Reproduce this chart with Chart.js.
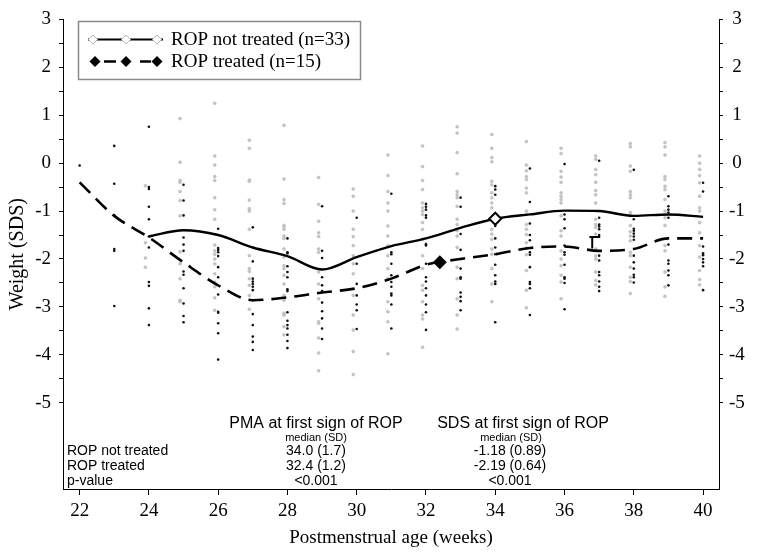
<!DOCTYPE html>
<html>
<head>
<meta charset="utf-8">
<script src="https://cdn.jsdelivr.net/npm/chart.js@4.4.0/dist/chart.umd.min.js"></script>
<style>
html,body{margin:0;padding:0;background:#fff;}
#wrap{width:762px;height:556px;position:relative;}
</style>
</head>
<body>
<div id="wrap"><canvas id="c" width="762" height="556"></canvas></div>
<script>
// ---------- DATA ----------
const obsWeeks = [22,23,24,25,26,27,28,29,30,31,32,33,34,35,36,37,38,39,40];

// Individual weight SDS observations, ROP not treated (grey dots), one list per week
const notTreatedObs = [
  [],
  [],
  [-0.47,-1.66,-1.98,-2.17],
  [0.93,0.02,-0.36,-0.40,-0.59,-0.78,-1.10,-1.85,-2.10,-2.41,-2.86,-2.89],
  [1.25,0.15,-0.04,-0.28,-0.36,-0.72,-0.97,-1.17,-1.71,-1.83,-1.90,-2.00,-2.10,-2.31,-2.48,-2.58,-2.81,-3.07],
  [0.48,0.31,-0.35,-0.38,-0.77,-0.95,-1.00,-1.38,-1.93,-2.20,-2.26,-2.41,-2.55,-2.76,-3.05],
  [0.79,-0.33,-0.76,-0.84,-1.30,-1.32,-1.38,-1.52,-1.57,-1.79,-1.96,-2.14,-2.20,-2.34,-2.52,-2.76,-2.86,-3.13,-3.17,-3.41,-3.58],
  [-0.30,-0.86,-1.21,-1.45,-1.53,-1.79,-1.86,-2.27,-2.52,-2.83,-3.31,-3.34,-3.65,-3.96,-4.33],
  [-0.54,-0.69,-1.00,-1.38,-1.53,-1.72,-1.93,-2.10,-2.31,-2.76,-3.17,-3.48,-3.93,-4.41],
  [0.17,-0.26,-0.59,-0.83,-1.00,-1.31,-1.52,-1.72,-1.93,-2.20,-2.41,-2.89,-3.10,-3.31,-3.98],
  [0.36,-0.07,-0.36,-0.55,-0.83,-0.93,-1.00,-1.07,-1.24,-1.38,-1.59,-1.93,-2.20,-2.55,-2.65,-2.89,-3.17,-3.25,-3.84],
  [0.76,0.63,0.22,-0.22,-0.59,-0.66,-0.72,-0.90,-1.17,-1.28,-1.41,-1.52,-1.76,-2.17,-2.41,-2.83,-3.17,-3.46],
  [0.60,0.31,0.12,0.03,-0.38,-0.45,-0.62,-0.72,-0.83,-0.93,-1.38,-1.48,-1.59,-1.79,-1.90,-2.20,-2.52,-2.89],
  [0.45,-0.04,-0.16,-0.28,-0.34,-0.52,-0.62,-1.00,-1.07,-1.28,-1.38,-1.49,-1.66,-1.77,-1.91,-2.24,-2.65,-3.02],
  [0.31,0.20,-0.17,-0.29,-0.40,-0.62,-0.69,-0.76,-0.83,-1.10,-1.41,-1.52,-1.83,-2.00,-2.14,-2.34,-2.48,-2.83],
  [0.15,0.08,-0.13,-0.24,-0.40,-0.57,-0.66,-0.83,-1.17,-1.28,-1.34,-1.48,-1.79,-1.93,-2.00,-2.27,-2.45,-2.54],
  [0.41,0.34,-0.06,-0.17,-0.59,-0.66,-0.72,-1.03,-1.10,-1.30,-1.43,-1.52,-1.62,-1.86,-1.93,-2.17,-2.38,-2.47,-2.72],
  [0.43,0.34,0.17,-0.28,-0.34,-0.48,-0.55,-0.76,-1.00,-1.14,-1.30,-1.72,-1.83,-2.27,-2.58,-2.78],
  [0.15,0.00,-0.13,-0.26,-0.41,-0.69,-0.93,-1.00,-1.24,-1.45,-1.72,-1.96,-2.24,-2.43,-2.54]
];

// Individual weight SDS observations, ROP treated (black dots), one list per week
const treatedObs = [
  [-0.05],
  [0.36,-0.43,-1.09,-1.79,-1.83,-2.98],
  [0.76,-0.50,-0.54,-0.91,-1.17,-1.53,-1.76,-2.48,-2.56,-3.03,-3.38],
  [-0.45,-0.78,-1.09,-1.55,-1.70,-1.83,-2.26,-2.33,-2.61,-2.93,-3.19,-3.32],
  [-1.37,-1.77,-1.81,-1.86,-1.94,-2.17,-2.38,-2.74,-3.10,-3.12,-3.34,-3.55,-4.10],
  [-1.34,-2.05,-2.41,-2.47,-2.52,-2.58,-2.65,-2.86,-3.15,-3.38,-3.62,-3.73,-3.90],
  [-1.57,-1.86,-1.88,-2.15,-2.27,-2.38,-2.63,-2.67,-3.11,-3.29,-3.38,-3.45,-3.58,-3.71,-3.86],
  [-0.90,-1.83,-1.98,-2.38,-2.55,-2.67,-2.91,-3.09,-3.24,-3.45,-3.67],
  [-1.14,-2.10,-2.52,-2.76,-2.95,-3.07,-3.46],
  [-0.64,-1.86,-1.90,-2.10,-2.34,-2.48,-2.58,-2.72,-2.76,-2.95,-3.45],
  [-0.85,-0.91,-0.97,-1.09,-1.14,-1.69,-1.72,-2.10,-2.38,-2.47,-2.61,-2.76,-2.95,-3.11,-3.48],
  [-0.72,-0.91,-1.48,-1.81,-2.00,-2.20,-2.38,-2.41,-2.70,-2.79,-2.88,-3.07],
  [-0.48,-0.55,-0.66,-1.31,-1.57,-1.76,-1.90,-2.12,-2.34,-2.47,-2.52,-3.32],
  [-0.11,-0.81,-1.26,-1.50,-1.61,-1.86,-1.91,-2.17,-2.48,-2.52,-2.61,-3.17],
  [-0.02,-1.07,-1.17,-1.36,-1.72,-1.86,-1.91,-2.12,-2.38,-2.41,-2.50,-3.05],
  [0.05,-1.14,-1.28,-1.32,-1.38,-1.50,-1.93,-2.03,-2.27,-2.34,-2.47,-2.58,-2.67],
  [-0.14,-1.17,-1.37,-1.41,-1.47,-1.53,-1.60,-1.93,-2.07,-2.20,-2.33,-2.38,-2.49],
  [-0.69,-0.90,-0.97,-1.03,-1.14,-1.70,-2.03,-2.10,-2.24,-2.34,-2.55],
  [-0.41,-0.59,-1.74,-1.88,-1.92,-2.00,-2.07,-2.15,-2.65]
];

// Smoothed group curves (weight SDS per week)
const curveWeeks       = [22,23,24,25,26,27,28,29,30,31,32,33,34,35,36,37,38,39,40];
const notTreatedCurve  = [null,null,-1.53,-1.40,-1.50,-1.76,-1.94,-2.22,-1.96,-1.73,-1.57,-1.35,-1.16,-1.07,-0.99,-1.00,-1.10,-1.07,-1.12];
const treatedCurve     = [-0.40,-1.10,-1.55,-2.07,-2.55,-2.86,-2.80,-2.70,-2.61,-2.41,-2.12,-2.00,-1.90,-1.77,-1.74,-1.83,-1.79,-1.57,-1.57];

// First sign of ROP markers (PMA, SDS as plotted)
const firstSignPMA = [34.0, 32.4];
const firstSignSDS = [-1.16, -2.07];

// Small error-bar ("T") near week 37
const barWeeks = [36.80, 36.80];
const barValues = [-1.78, -1.54];
const capWeeks = [36.72, 37.03];
const capValues = [-1.54, -1.54];

// Axis ticks
const xTicks = [22,24,26,28,30,32,34,36,38,40];
const yTicks = [3,2,1,0,-1,-2,-3,-4,-5];

// Legend & table texts
const legendLabels = ['ROP not treated (n=33)', 'ROP treated (n=15)'];
const tableHeaders = ['PMA at first sign of ROP', 'SDS at first sign of ROP'];
const tableSubHeader = 'median (SD)';
const tableRowLabels = ['ROP not treated', 'ROP treated', 'p-value'];
const pmaColumn = ['34.0 (1.7)', '32.4 (1.2)', '<0.001'];
const sdsColumn = ['-1.18 (0.89)', '-2.19 (0.64)', '<0.001'];

// ---------- BUILD ----------
const SERIF = "'Liberation Serif', 'Times New Roman', serif";
const SANS = "'Liberation Sans', Arial, sans-serif";
const GREY_SHIFT = -0.1;

const greyPts = [], blackPts = [];
obsWeeks.forEach((w, i) => {
  notTreatedObs[i].forEach(v => greyPts.push({x: w + GREY_SHIFT, y: v}));
  treatedObs[i].forEach(v => blackPts.push({x: w, y: v}));
});
const ntCurvePts = [], tCurvePts = [];
curveWeeks.forEach((w, i) => {
  if (notTreatedCurve[i] !== null) ntCurvePts.push({x: w, y: notTreatedCurve[i]});
  if (treatedCurve[i] !== null) tCurvePts.push({x: w, y: treatedCurve[i]});
});
const yMinor = [];
for (let i = 0; i < yTicks.length - 1; i++) { yMinor.push(yTicks[i], (yTicks[i] + yTicks[i+1]) / 2); }
yMinor.push(yTicks[yTicks.length - 1]);

const legendTablePlugin = {
  id: 'legendTable',
  afterDraw(chart) {
    const ctx = chart.ctx;
    ctx.save();
    // legend box
    ctx.strokeStyle = '#8a8a8a';
    ctx.lineWidth = 1.5;
    ctx.strokeRect(78.5, 21.5, 282, 58);
    const rows = [39.5, 61.5];
    // row 1: solid line with grey open diamonds
    ctx.strokeStyle = '#000'; ctx.lineWidth = 2.2; ctx.setLineDash([]);
    ctx.beginPath(); ctx.moveTo(88, rows[0]); ctx.lineTo(163, rows[0]); ctx.stroke();
    const diamond = (x, y, r, fill, stroke, lw) => {
      ctx.beginPath(); ctx.moveTo(x, y - r); ctx.lineTo(x + r, y); ctx.lineTo(x, y + r); ctx.lineTo(x - r, y); ctx.closePath();
      if (fill) { ctx.fillStyle = fill; ctx.fill(); }
      if (stroke) { ctx.strokeStyle = stroke; ctx.lineWidth = lw; ctx.stroke(); }
    };
    [93, 126, 157].forEach(x => diamond(x, rows[0], 4.5, '#fff', '#b8b8b8', 1));
    // row 2: dashed with black diamonds
    ctx.strokeStyle = '#000'; ctx.lineWidth = 2.4;
    ctx.beginPath(); ctx.moveTo(104, rows[1]); ctx.lineTo(116, rows[1]); ctx.moveTo(140, rows[1]); ctx.lineTo(151, rows[1]); ctx.stroke();
    [95, 126, 157].forEach(x => diamond(x, rows[1], 5.5, '#000', null, 0));
    ctx.fillStyle = '#000';
    ctx.font = '19px ' + SERIF;
    ctx.textAlign = 'left'; ctx.textBaseline = 'middle';
    ctx.fillText(legendLabels[0], 171, rows[0] + 1);
    ctx.fillText(legendLabels[1], 171, rows[1] + 1);

    // table
    const colX = [316, 516];
    ctx.textBaseline = 'middle';
    ctx.textAlign = 'center';
    ctx.font = '16px ' + SANS;
    ctx.fillText(tableHeaders[0], colX[0], 424);
    ctx.fillText(tableHeaders[1], colX[1] + 7, 424);
    ctx.font = '11px ' + SANS;
    ctx.fillText(tableSubHeader, colX[0], 438);
    ctx.fillText(tableSubHeader, colX[1] - 5, 438);
    ctx.font = '14px ' + SANS;
    const rowY = [451, 466, 481];
    tableRowLabels.forEach((t, i) => {
      ctx.textAlign = 'left'; ctx.fillText(t, 67, rowY[i]);
      ctx.textAlign = 'center';
      ctx.fillText(pmaColumn[i], colX[0], rowY[i]);
      ctx.fillText(sdsColumn[i], colX[1] - 6, rowY[i]);
    });
    ctx.restore();
  }
};

const yAxisCommon = (pos) => ({
  type: 'linear', position: pos, min: -6.8, max: 3,
  afterBuildTicks: s => { s.ticks = yMinor.map(v => ({value: v})); },
  afterFit: s => { s.width = pos === 'left' ? 63 : 43; },
  grid: { drawOnChartArea: false, tickLength: 4, color: '#000', tickColor: '#000' },
  border: { color: '#000', width: 1 },
  ticks: {
    autoSkip: false,
    font: { family: SERIF, size: 19 }, color: '#000', padding: pos === 'left' ? 8 : 6,
    crossAlign: pos === 'left' ? 'near' : 'center',
    callback: v => yTicks.includes(v) ? String(v) : ''
  }
});

new Chart(document.getElementById('c'), {
  type: 'scatter',
  data: {
    datasets: [
      { label: 'first sign not treated', data: [{x: firstSignPMA[0], y: firstSignSDS[0]}], pointStyle: 'rectRot', pointRadius: 6, backgroundColor: '#fff', borderColor: '#000', borderWidth: 2, order: 0 },
      { label: 'first sign treated', data: [{x: firstSignPMA[1], y: firstSignSDS[1]}], pointStyle: 'rectRot', pointRadius: 7, backgroundColor: '#000', borderColor: '#000', borderWidth: 0, order: 0 },
      { label: 'bar', data: barWeeks.map((w, i) => ({x: w, y: barValues[i]})), showLine: true, borderColor: '#000', borderWidth: 2, pointRadius: 0, order: 1 },
      { label: 'cap', data: capWeeks.map((w, i) => ({x: w, y: capValues[i]})), showLine: true, borderColor: '#000', borderWidth: 2, pointRadius: 0, order: 1 },
      { label: legendLabels[0], data: ntCurvePts, showLine: true, borderColor: '#000', borderWidth: 2.4, cubicInterpolationMode: 'monotone', pointRadius: 0, order: 2 },
      { label: legendLabels[1], data: tCurvePts, showLine: true, borderColor: '#000', borderWidth: 2.6, borderDash: [15, 8], cubicInterpolationMode: 'monotone', pointRadius: 0, order: 2 },
      { label: 'not treated obs', data: greyPts, pointRadius: 1.5, pointStyle: 'circle', backgroundColor: '#c4c4c4', borderColor: '#b8b8b8', borderWidth: 0.5, order: 3 },
      { label: 'treated obs', data: blackPts, pointRadius: 1.3, pointStyle: 'circle', backgroundColor: '#111', borderColor: '#111', borderWidth: 0, order: 3 }
    ]
  },
  options: {
    responsive: false, animation: false, devicePixelRatio: 1,
    layout: { padding: { top: 15, left: 0, right: 0, bottom: 0 } },
    plugins: { legend: { display: false }, tooltip: { enabled: false } },
    scales: {
      x: {
        type: 'linear', position: 'bottom', min: 21.52, max: 40.46,
        afterBuildTicks: s => { s.ticks = xTicks.map(v => ({value: v})); },
        afterFit: s => { s.height = 67; },
        grid: { drawOnChartArea: false, tickLength: 6, color: '#000', tickColor: '#000' },
        border: { color: '#000', width: 1 },
        ticks: { autoSkip: false, maxRotation: 0, font: { family: SERIF, size: 19 }, color: '#000', padding: 5 },
        title: { display: true, text: 'Postmenstrual age (weeks)', font: { family: SERIF, size: 19 }, color: '#000', padding: { top: 0, bottom: 7 } }
      },
      y: Object.assign(yAxisCommon('left'), {
        title: { display: true, text: 'Weight (SDS)', font: { family: SERIF, size: 20 }, color: '#000', padding: { top: 6, bottom: 0 } }
      }),
      y2: yAxisCommon('right')
    }
  },
  plugins: [legendTablePlugin]
});
</script>
</body>
</html>
